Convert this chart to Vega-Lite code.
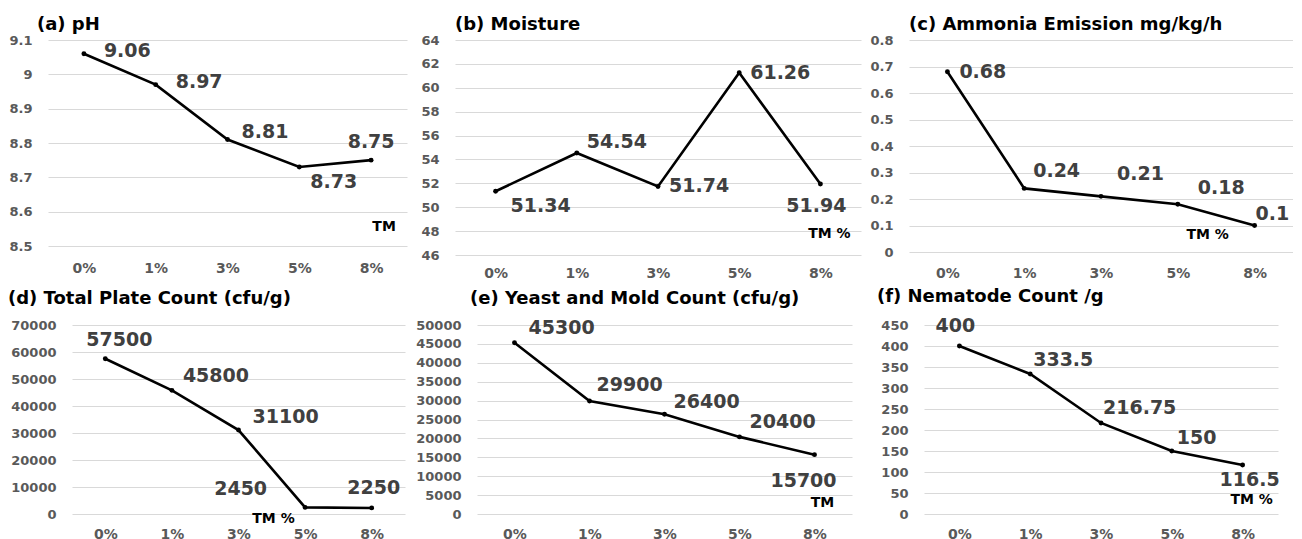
{
  "$schema": "https://vega.github.io/schema/vega-lite/v6.json",
  "background": "white",
  "padding": {"left": 8, "top": 16, "right": 0, "bottom": 0},
  "datasets": {
    "a": [{"tm": "0%", "v": 9.06}, {"tm": "1%", "v": 8.97}, {"tm": "3%", "v": 8.81}, {"tm": "5%", "v": 8.73}, {"tm": "8%", "v": 8.75}],
    "b": [{"tm": "0%", "v": 51.34}, {"tm": "1%", "v": 54.54}, {"tm": "3%", "v": 51.74}, {"tm": "5%", "v": 61.26}, {"tm": "8%", "v": 51.94}],
    "c": [{"tm": "0%", "v": 0.68}, {"tm": "1%", "v": 0.24}, {"tm": "3%", "v": 0.21}, {"tm": "5%", "v": 0.18}, {"tm": "8%", "v": 0.1}],
    "d": [{"tm": "0%", "v": 57500}, {"tm": "1%", "v": 45800}, {"tm": "3%", "v": 31100}, {"tm": "5%", "v": 2450}, {"tm": "8%", "v": 2250}],
    "e": [{"tm": "0%", "v": 45300}, {"tm": "1%", "v": 29900}, {"tm": "3%", "v": 26400}, {"tm": "5%", "v": 20400}, {"tm": "8%", "v": 15700}],
    "f": [{"tm": "0%", "v": 400}, {"tm": "1%", "v": 333.5}, {"tm": "3%", "v": 216.75}, {"tm": "5%", "v": 150}, {"tm": "8%", "v": 116.5}],
    "empty": []
  },
  "vconcat": [
    {
      "hconcat": [
        {
          "width": 359, "height": 206,
          "title": {"text": "(a) pH", "dx": -11, "offset": 0},
          "data": {"name": "a"},
          "encoding": {
            "x": {"field": "tm", "type": "ordinal", "sort": null, "axis": {"title": null, "labelPadding": 15}},
            "y": {"field": "v", "type": "quantitative", "scale": {"domain": [8.5, 9.1], "nice": false, "zero": false}, "axis": {"title": null, "values": [8.5, 8.6, 8.7, 8.8, 8.9, 9, 9.1], "format": "~f"}}
          },
          "layer": [
            {"mark": {"type": "line"}},
            {"mark": {"type": "circle"}},
            {"transform": [{"filter": "datum.tm === '0%' || datum.tm === '1%'"}], "mark": {"type": "text", "align": "left", "dx": 20, "dy": -3}, "encoding": {"text": {"field": "v", "type": "quantitative"}}},
            {"transform": [{"filter": "datum.tm === '3%'"}], "mark": {"type": "text", "align": "left", "dx": 14, "dy": -8}, "encoding": {"text": {"field": "v", "type": "quantitative"}}},
            {"transform": [{"filter": "datum.tm === '5%'"}], "mark": {"type": "text", "align": "left", "dx": 11, "dy": 15}, "encoding": {"text": {"field": "v", "type": "quantitative"}}},
            {"transform": [{"filter": "datum.tm === '8%'"}], "mark": {"type": "text", "align": "center", "dx": 0, "dy": -18}, "encoding": {"text": {"field": "v", "type": "quantitative"}}},
            {"transform": [{"filter": "datum.tm === '8%'"}], "mark": {"type": "text", "fontSize": 14, "color": "#000000", "dx": 13}, "encoding": {"y": {"datum": 8.555}, "text": {"value": "TM"}}}
          ]
        },
        {
          "width": 406, "height": 215,
          "title": {"text": "(b) Moisture", "dx": 0, "offset": 0},
          "data": {"name": "b"},
          "encoding": {
            "x": {"field": "tm", "type": "ordinal", "sort": null, "axis": {"title": null, "labelPadding": 11}},
            "y": {"field": "v", "type": "quantitative", "scale": {"domain": [46, 64], "nice": false, "zero": false}, "axis": {"title": null, "values": [46, 48, 50, 52, 54, 56, 58, 60, 62, 64]}}
          },
          "layer": [
            {"mark": {"type": "line"}},
            {"mark": {"type": "circle"}},
            {"transform": [{"filter": "datum.tm === '0%'"}], "mark": {"type": "text", "align": "left", "dx": 15, "dy": 15}, "encoding": {"text": {"field": "v", "type": "quantitative"}}},
            {"transform": [{"filter": "datum.tm === '1%'"}], "mark": {"type": "text", "align": "left", "dx": 10, "dy": -11}, "encoding": {"text": {"field": "v", "type": "quantitative"}}},
            {"transform": [{"filter": "datum.tm === '3%' || datum.tm === '5%'"}], "mark": {"type": "text", "align": "left", "dx": 11, "dy": 0}, "encoding": {"text": {"field": "v", "type": "quantitative"}}},
            {"transform": [{"filter": "datum.tm === '8%'"}], "mark": {"type": "text", "align": "center", "dx": -4, "dy": 22}, "encoding": {"text": {"field": "v", "type": "quantitative"}}},
            {"transform": [{"filter": "datum.tm === '8%'"}], "mark": {"type": "text", "fontSize": 14, "color": "#000000", "dx": 9}, "encoding": {"y": {"datum": 47.8}, "text": {"value": "TM %"}}}
          ]
        },
        {
          "width": 384, "height": 212,
          "title": {"text": "(c) Ammonia Emission mg/kg/h", "dx": 0, "offset": 0},
          "data": {"name": "c"},
          "encoding": {
            "x": {"field": "tm", "type": "ordinal", "sort": null, "axis": {"title": null, "labelPadding": 14}},
            "y": {"field": "v", "type": "quantitative", "scale": {"domain": [0, 0.8], "nice": false}, "axis": {"title": null, "values": [0, 0.1, 0.2, 0.3, 0.4, 0.5, 0.6, 0.7, 0.8], "format": "~f"}}
          },
          "layer": [
            {"mark": {"type": "line"}},
            {"mark": {"type": "circle"}},
            {"transform": [{"filter": "datum.tm === '0%'"}], "mark": {"type": "text", "align": "left", "dx": 12, "dy": 0}, "encoding": {"text": {"field": "v", "type": "quantitative"}}},
            {"transform": [{"filter": "datum.tm === '1%'"}], "mark": {"type": "text", "align": "left", "dx": 9, "dy": -17}, "encoding": {"text": {"field": "v", "type": "quantitative"}}},
            {"transform": [{"filter": "datum.tm === '3%'"}], "mark": {"type": "text", "align": "left", "dx": 16, "dy": -22}, "encoding": {"text": {"field": "v", "type": "quantitative"}}},
            {"transform": [{"filter": "datum.tm === '5%'"}], "mark": {"type": "text", "align": "left", "dx": 20, "dy": -16}, "encoding": {"text": {"field": "v", "type": "quantitative"}}},
            {"transform": [{"filter": "datum.tm === '8%'"}], "mark": {"type": "text", "align": "left", "dx": 1, "dy": -12}, "encoding": {"text": {"field": "v", "type": "quantitative"}}},
            {"transform": [{"filter": "datum.tm === '8%'"}], "mark": {"type": "text", "fontSize": 14, "color": "#000000", "dx": -47}, "encoding": {"y": {"datum": 0.063}, "text": {"value": "TM %"}}}
          ]
        }
      ],
      "spacing": 48,
      "bounds": "flush"
    },
    {
      "hconcat": [
        {"width": 24, "height": 189, "data": {"name": "empty"}, "mark": {"type": "point", "opacity": 0}},
        {
          "hconcat": [
            {
              "width": 333, "height": 189,
              "title": {"text": "(d) Total Plate Count (cfu/g)", "dx": -64, "offset": 11},
              "data": {"name": "d"},
              "encoding": {
                "x": {"field": "tm", "type": "ordinal", "sort": null, "axis": {"title": null, "labelPadding": 13}},
                "y": {"field": "v", "type": "quantitative", "scale": {"domain": [0, 70000], "nice": false}, "axis": {"title": null, "values": [0, 10000, 20000, 30000, 40000, 50000, 60000, 70000], "format": "d"}}
              },
              "layer": [
                {"mark": {"type": "line"}},
                {"mark": {"type": "circle"}},
                {"transform": [{"filter": "datum.tm === '0%'"}], "mark": {"type": "text", "align": "center", "dx": 14, "dy": -19}, "encoding": {"text": {"field": "v", "type": "quantitative"}}},
                {"transform": [{"filter": "datum.tm === '1%'"}], "mark": {"type": "text", "align": "left", "dx": 11, "dy": -14}, "encoding": {"text": {"field": "v", "type": "quantitative"}}},
                {"transform": [{"filter": "datum.tm === '3%'"}], "mark": {"type": "text", "align": "left", "dx": 14, "dy": -13}, "encoding": {"text": {"field": "v", "type": "quantitative"}}},
                {"transform": [{"filter": "datum.tm === '5%'"}], "mark": {"type": "text", "align": "right", "dx": -38, "dy": -18}, "encoding": {"text": {"field": "v", "type": "quantitative"}}},
                {"transform": [{"filter": "datum.tm === '8%'"}], "mark": {"type": "text", "align": "center", "dx": 2, "dy": -20}, "encoding": {"text": {"field": "v", "type": "quantitative"}}},
                {"transform": [{"filter": "datum.tm === '3%'"}], "mark": {"type": "text", "fontSize": 14, "color": "#000000", "dx": 35, "dy": 5}, "encoding": {"y": {"datum": 0}, "text": {"value": "TM %"}}}
              ]
            },
            {
              "width": 375, "height": 189,
              "title": {"text": "(e) Yeast and Mold Count (cfu/g)", "dx": -7, "offset": 11},
              "data": {"name": "e"},
              "encoding": {
                "x": {"field": "tm", "type": "ordinal", "sort": null, "axis": {"title": null, "labelPadding": 13}},
                "y": {"field": "v", "type": "quantitative", "scale": {"domain": [0, 50000], "nice": false}, "axis": {"title": null, "values": [0, 5000, 10000, 15000, 20000, 25000, 30000, 35000, 40000, 45000, 50000], "format": "d"}}
              },
              "layer": [
                {"mark": {"type": "line"}},
                {"mark": {"type": "circle"}},
                {"transform": [{"filter": "datum.tm === '0%'"}], "mark": {"type": "text", "align": "left", "dx": 14, "dy": -15}, "encoding": {"text": {"field": "v", "type": "quantitative"}}},
                {"transform": [{"filter": "datum.tm === '1%'"}], "mark": {"type": "text", "align": "left", "dx": 7, "dy": -16}, "encoding": {"text": {"field": "v", "type": "quantitative"}}},
                {"transform": [{"filter": "datum.tm === '3%'"}], "mark": {"type": "text", "align": "left", "dx": 9, "dy": -12}, "encoding": {"text": {"field": "v", "type": "quantitative"}}},
                {"transform": [{"filter": "datum.tm === '5%'"}], "mark": {"type": "text", "align": "left", "dx": 10, "dy": -15}, "encoding": {"text": {"field": "v", "type": "quantitative"}}},
                {"transform": [{"filter": "datum.tm === '8%'"}], "mark": {"type": "text", "align": "center", "dx": -11, "dy": 26}, "encoding": {"text": {"field": "v", "type": "quantitative"}}},
                {"transform": [{"filter": "datum.tm === '8%'"}], "mark": {"type": "text", "fontSize": 14, "color": "#000000", "dx": 8}, "encoding": {"y": {"datum": 2900}, "text": {"value": "TM"}}}
              ]
            },
            {
              "width": 354, "height": 189,
              "title": {"text": "(f)  Nematode Count /g", "dx": -47, "offset": 11},
              "data": {"name": "f"},
              "encoding": {
                "x": {"field": "tm", "type": "ordinal", "sort": null, "axis": {"title": null, "labelPadding": 13}},
                "y": {"field": "v", "type": "quantitative", "scale": {"domain": [0, 450], "nice": false}, "axis": {"title": null, "values": [0, 50, 100, 150, 200, 250, 300, 350, 400, 450]}}
              },
              "layer": [
                {"mark": {"type": "line"}},
                {"mark": {"type": "circle"}},
                {"transform": [{"filter": "datum.tm === '0%'"}], "mark": {"type": "text", "align": "center", "dx": -4, "dy": -20}, "encoding": {"text": {"field": "v", "type": "quantitative"}}},
                {"transform": [{"filter": "datum.tm === '1%'"}], "mark": {"type": "text", "align": "left", "dx": 3, "dy": -14}, "encoding": {"text": {"field": "v", "type": "quantitative"}}},
                {"transform": [{"filter": "datum.tm === '3%'"}], "mark": {"type": "text", "align": "left", "dx": 2, "dy": -15}, "encoding": {"text": {"field": "v", "type": "quantitative"}}},
                {"transform": [{"filter": "datum.tm === '5%'"}], "mark": {"type": "text", "align": "left", "dx": 5, "dy": -13}, "encoding": {"text": {"field": "v", "type": "quantitative"}}},
                {"transform": [{"filter": "datum.tm === '8%'"}], "mark": {"type": "text", "align": "center", "dx": 7, "dy": 15}, "encoding": {"text": {"field": "v", "type": "quantitative"}}},
                {"transform": [{"filter": "datum.tm === '8%'"}], "mark": {"type": "text", "fontSize": 14, "color": "#000000", "dx": 9}, "encoding": {"y": {"datum": 33}, "text": {"value": "TM %"}}}
              ]
            }
          ],
          "spacing": 72,
          "bounds": "flush"
        }
      ],
      "spacing": 0,
      "bounds": "flush"
    }
  ],
  "spacing": 8,
  "config": {
    "view": {"stroke": null},
    "axis": {"labelFont": "DejaVu Sans", "labelFontWeight": "bold", "labelFontSize": 13, "labelColor": "#595959", "ticks": false, "domain": false},
    "axisY": {"grid": true, "gridColor": "#d9d9d9", "gridWidth": 1, "labelPadding": 16},
    "axisX": {"grid": false, "labelAngle": 0, "labelFontSize": 14},
    "title": {"font": "DejaVu Sans", "fontSize": 18, "fontWeight": "bold", "color": "#000000", "anchor": "start", "frame": "group"},
    "text": {"font": "DejaVu Sans", "fontWeight": "bold", "fontSize": 19, "color": "#404040", "baseline": "middle"},
    "line": {"color": "#000000", "strokeWidth": 2.6},
    "circle": {"color": "#000000", "size": 24, "opacity": 1}
  }
}
